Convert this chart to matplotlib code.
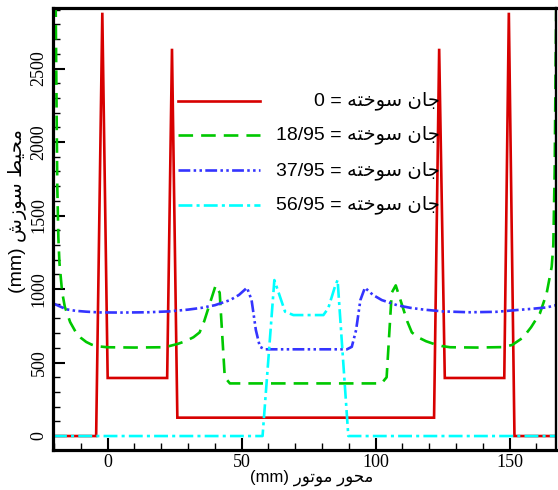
import matplotlib
matplotlib.use('Agg')
import matplotlib.pyplot as plt
from matplotlib.lines import Line2D
from matplotlib.ticker import MultipleLocator

plt.rcParams['lines.scale_dashes'] = False

# Persian words written in presentation forms, visual order
jan = '\uFEE5\uFE8E\uFE9F'                 # jan
sukhte = '\uFEEA\uFE98\uFEA7\uFEEE\uFEB3'   # sukhte
mohit = '\uFEC2\uFEF4\uFEA4\uFEE3'          # mohit
suzesh = '\uFEB5\uFEAF\uFEEE\uFEB3'         # suzesh
mehvar = '\uFEAD\uFEEE\uFEA4\uFEE3'         # mehvar
motor = '\uFEAD\uFEEE\uFE97\uFEEE\uFEE3'    # motor

burnt = ['0', '18/95', '37/95', '56/95']

# 0
x_red = [-20.4, -4.3, -2.0, 0.0, 22.2, 24.0, 26.0, 121.8, 123.7, 125.8, 148.0, 149.7, 151.8, 167.5]
y_red = [0, 0, 2880, 395, 395, 2635, 125, 125, 2635, 395, 395, 2880, 0, 0]

# 18/95
x_green = [-19.4, -19.1, -18.8, -18.4, -18.0, -17.0, -16.0, -14.0, -12.0, -10.0, -8.0, -6.0, -4.0,
           0.0, 10.0, 20.0, 23.0, 26.0, 29.0, 32.0, 34.3, 36.0, 38.1, 40.3, 41.8, 43.7, 45.6,
           102.2, 104.1, 106.0, 107.5, 109.7, 111.8, 113.5, 115.8, 118.8, 121.8, 124.8, 127.8,
           137.8, 147.6, 151.0, 155.0, 158.0, 161.3, 163.8, 165.7, 166.3, 166.8, 167.1, 167.4]
y_green = [2950, 2300, 1700, 1350, 1180, 980, 880, 775, 710, 668, 640, 622, 611,
           604, 602, 604, 612, 626, 645, 672, 705, 780, 900, 1025, 975, 400, 358,
           358, 400, 975, 1025, 900, 780, 705, 672, 645, 626, 612, 604,
           602, 605, 620, 670, 740, 835, 970, 1152, 1300, 1800, 2400, 2950]

# 37/95
x_blue = [-20.4, -17.0, -15.4, -12.0, -8.0, -3.0, 5.0, 15.0, 23.0, 30.0, 35.0, 40.0, 45.7, 49.0, 52.0,
          53.7, 55.3, 56.8, 58.7, 89.3, 91.1, 92.7, 94.3, 96.0, 99.0, 102.3, 108.0, 113.0, 118.0,
          125.0, 135.0, 145.0, 152.6, 158.0, 163.8, 167.5]
y_blue = [903, 875, 862, 852, 846, 841, 840, 842, 848, 860, 872, 890, 925, 960, 1009,
          925, 721, 607, 590, 590, 607, 721, 925, 1009, 960, 925, 890, 872, 860,
          848, 842, 845, 857, 865, 875, 891]

# 56/95
x_cyan = [-20.4, 57.8, 62.2, 64.3, 66.2, 69.3, 80.5, 82.3, 84.8, 85.8, 89.8, 167.5]
y_cyan = [0, 0, 1061, 948, 846, 823, 823, 869, 1016, 1061, 0, 0]

styles = [
    dict(color='#d70000', lw=1.9, ls='-'),
    dict(color='#00c800', lw=1.9, ls=(0, (10.5, 5.8))),
    dict(color='#3434ff', lw=1.9, ls=(0, (8.5, 2.4, 1.8, 2.4, 1.8, 2.4))),
    dict(color='#00ffff', lw=1.9, ls=(0, (10, 3, 2.2, 3))),
]
series = [(x_red, y_red), (x_green, y_green), (x_blue, y_blue), (x_cyan, y_cyan)]

fig = plt.figure(figsize=(5.58, 4.90), dpi=100)
ax = fig.add_axes([53 / 558, 1 - 450 / 490, 503 / 558, 442 / 490])

for (xs, ys), st in zip(series, styles):
    ax.plot(xs, ys, solid_joinstyle='miter', **st)

ax.set_xlim(-20.4, 167.3)
ax.set_ylim(-95, 2912)

ax.xaxis.set_major_locator(MultipleLocator(50))
ax.xaxis.set_minor_locator(MultipleLocator(10))
ax.yaxis.set_major_locator(MultipleLocator(500))
ax.yaxis.set_minor_locator(MultipleLocator(100))
ax.tick_params(which='both', direction='in', top=False, right=False, color='black')
ax.tick_params(which='major', length=8.6, width=1.5)
ax.tick_params(which='minor', length=4.8, width=1.0)
ax.tick_params(axis='x', pad=3)
ax.tick_params(axis='y', pad=4)
for lab in ax.get_xticklabels() + ax.get_yticklabels():
    lab.set_family('Liberation Serif')
    lab.set_fontsize(13)
for lab in ax.get_yticklabels():
    lab.set_rotation(90)
    lab.set_va('center')

for side in ['left', 'bottom', 'top']:
    ax.spines[side].set_linewidth(2.3)
ax.spines['right'].set_linewidth(1.7)

fam = ['Liberation Sans', 'DejaVu Sans']
ax.set_ylabel('(mm) ' + suzesh + ' ' + mohit, family=fam, fontsize=14, va='center')
ax.yaxis.set_label_coords(-0.071, 0.541)
ax.set_xlabel('(mm) ' + motor + ' ' + mehvar, family=fam, fontsize=12, va='center')
ax.xaxis.set_label_coords(0.515, -0.063)

# legend: line keys on the left, right-aligned labels
row_y = [0.790, 0.713, 0.633, 0.554]
for ry, st, b in zip(row_y, styles, burnt):
    ax.add_line(Line2D([0.2485, 0.4115], [ry, ry], transform=ax.transAxes, **st))
    ax.text(0.769, ry, b + ' = ' + sukhte + ' ' + jan, transform=ax.transAxes,
            ha='right', va='center', family=fam, fontsize=14)

fig.savefig('out.png', dpi=100)
